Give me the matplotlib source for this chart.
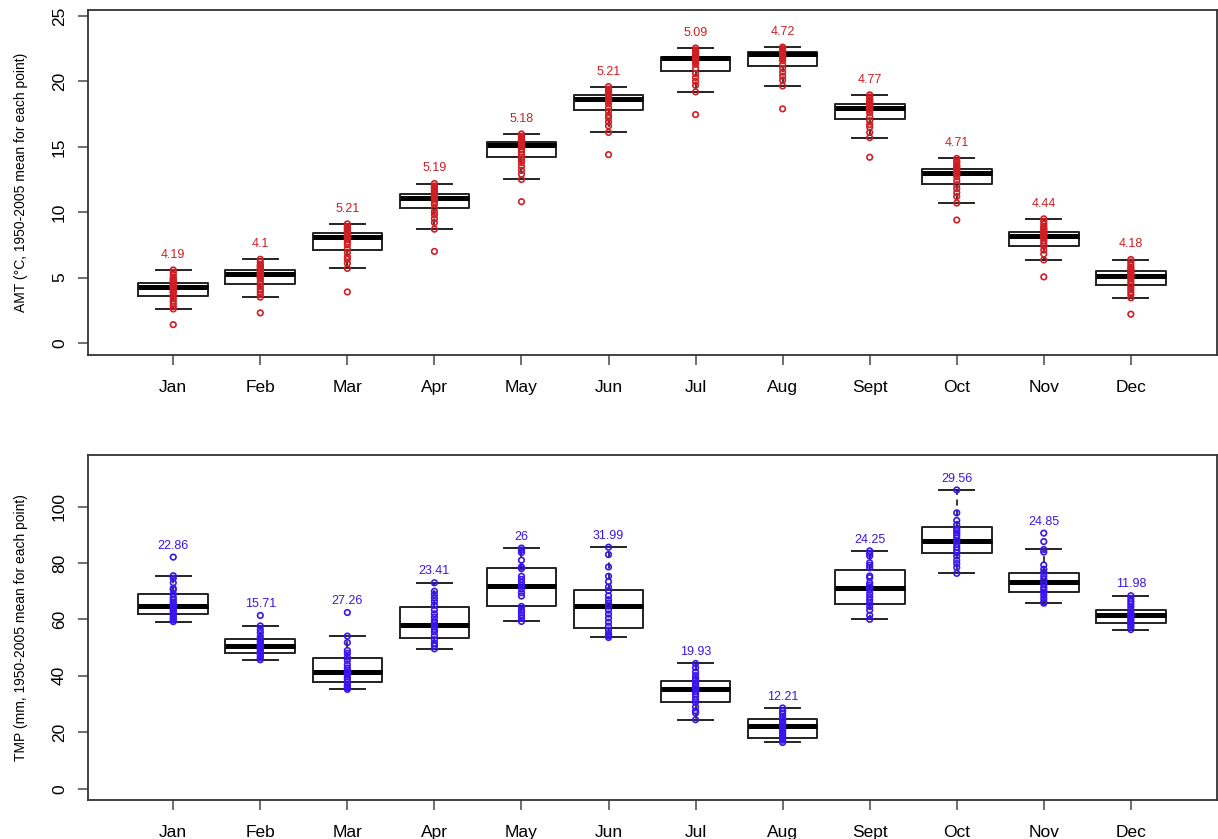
import numpy as np
import matplotlib.pyplot as plt

plt.rcParams['font.family'] = ['Liberation Sans', 'DejaVu Sans']

months = ['Jan', 'Feb', 'Mar', 'Apr', 'May', 'Jun', 'Jul', 'Aug', 'Sept', 'Oct', 'Nov', 'Dec']

# ---- AMT (temperature) ----
amt_whislo = [2.6, 3.5, 5.7, 8.7, 12.5, 16.1, 19.2, 19.65, 15.7, 10.7, 6.35, 3.45]
amt_q1 = [3.6, 4.5, 7.1, 10.3, 14.2, 17.8, 20.8, 21.2, 17.1, 12.15, 7.4, 4.4]
amt_med = [4.3, 5.25, 8.1, 11.1, 15.1, 18.65, 21.8, 22.1, 18.0, 13.0, 8.2, 5.1]
amt_q3 = [4.6, 5.6, 8.4, 11.4, 15.4, 18.96, 21.9, 22.25, 18.3, 13.3, 8.5, 5.5]
amt_whishi = [5.58, 6.4, 9.1, 12.19, 15.98, 19.6, 22.55, 22.62, 18.97, 14.11, 9.49, 6.38]
amt_range = ['4.19', '4.1', '5.21', '5.19', '5.18', '5.21', '5.09', '4.72', '4.77', '4.71', '4.44', '4.18']

amt_points = [
    [5.58, 5.4, 5.2, 5.0, 4.9, 4.8, 4.7, 4.6, 4.5, 4.45, 4.4, 4.3, 4.25, 4.2, 4.1, 4.0, 3.9, 3.8, 3.6, 3.4, 3.2, 3.0, 2.8, 2.6, 1.4],
    [6.4, 6.2, 6.0, 5.9, 5.8, 5.7, 5.6, 5.5, 5.4, 5.3, 5.25, 5.2, 5.1, 5.0, 4.9, 4.7, 4.5, 4.3, 4.1, 3.9, 3.7, 3.5, 2.3],
    [9.1, 8.9, 8.8, 8.7, 8.6, 8.5, 8.4, 8.3, 8.2, 8.1, 8.0, 7.9, 7.7, 7.5, 7.2, 6.9, 6.6, 6.4, 6.1, 5.7, 3.9],
    [12.19, 12.0, 11.9, 11.8, 11.7, 11.6, 11.5, 11.4, 11.3, 11.2, 11.1, 11.0, 10.8, 10.6, 10.3, 10.0, 9.8, 9.5, 9.2, 8.7, 7.0],
    [15.98, 15.8, 15.7, 15.6, 15.5, 15.4, 15.3, 15.2, 15.1, 15.0, 14.8, 14.6, 14.4, 14.2, 14.0, 13.8, 13.5, 13.2, 12.9, 12.5, 10.8],
    [19.6, 19.4, 19.3, 19.2, 19.1, 19.0, 18.9, 18.8, 18.7, 18.6, 18.5, 18.3, 18.0, 17.7, 17.4, 17.2, 16.9, 16.6, 16.1, 14.4],
    [22.55, 22.4, 22.3, 22.2, 22.1, 22.0, 21.9, 21.8, 21.7, 21.6, 21.5, 21.3, 21.0, 20.6, 20.3, 20.0, 19.7, 19.2, 17.46],
    [22.62, 22.5, 22.4, 22.3, 22.2, 22.1, 22.0, 21.9, 21.8, 21.6, 21.3, 21.0, 20.7, 20.4, 20.1, 19.65, 17.9],
    [18.97, 18.8, 18.6, 18.5, 18.4, 18.3, 18.2, 18.1, 18.0, 17.9, 17.8, 17.6, 17.3, 17.0, 16.7, 16.5, 16.1, 15.7, 14.2],
    [14.11, 13.9, 13.8, 13.6, 13.5, 13.4, 13.3, 13.2, 13.1, 13.0, 12.9, 12.7, 12.4, 12.1, 11.8, 11.5, 11.2, 10.7, 9.4],
    [9.49, 9.3, 9.1, 8.9, 8.8, 8.7, 8.6, 8.5, 8.4, 8.3, 8.2, 8.1, 8.0, 7.8, 7.6, 7.4, 7.1, 6.8, 6.35, 5.05],
    [6.38, 6.2, 6.0, 5.8, 5.7, 5.6, 5.5, 5.4, 5.3, 5.2, 5.1, 5.0, 4.9, 4.7, 4.5, 4.3, 4.1, 3.9, 3.7, 3.45, 2.2],
]

# ---- TMP (precipitation) ----
tmp_whislo = [59.24, 45.7, 35.2, 49.59, 59.3, 53.61, 24.47, 16.39, 60.05, 76.34, 65.75, 56.42]
tmp_q1 = [61.8, 48.2, 37.9, 53.4, 64.7, 57.0, 30.8, 18.0, 65.5, 83.5, 69.9, 58.8]
tmp_med = [64.8, 50.6, 41.2, 58.2, 71.8, 64.7, 35.4, 22.3, 71.1, 87.9, 73.4, 61.4]
tmp_q3 = [69.1, 53.0, 46.4, 64.5, 78.4, 70.5, 38.1, 24.6, 77.5, 92.6, 76.3, 63.4]
tmp_whishi = [75.5, 57.7, 54.1, 73.0, 85.3, 85.6, 44.4, 28.6, 84.3, 105.9, 84.8, 68.4]
tmp_range = ['22.86', '15.71', '27.26', '23.41', '26', '31.99', '19.93', '12.21', '24.25', '29.56', '24.85', '11.98']

tmp_points = [
    [82.1, 75.5, 74.6, 73.0, 71.0, 70.5, 69.0, 67.8, 67.0, 66.2, 65.5, 64.8, 64.2, 63.6, 63.0, 62.4, 61.8, 61.0, 60.4, 59.8, 59.24],
    [61.41, 57.7, 56.4, 55.3, 54.0, 53.0, 52.3, 51.6, 51.0, 50.6, 50.1, 49.6, 49.0, 48.4, 47.8, 47.1, 46.4, 45.7],
    [62.46, 54.1, 51.8, 49.0, 48.0, 46.6, 45.5, 44.0, 42.8, 41.9, 41.2, 40.4, 39.6, 38.8, 37.9, 37.0, 36.4, 35.8, 35.2],
    [73.0, 70.0, 68.8, 67.6, 66.4, 65.0, 63.4, 62.0, 60.8, 59.6, 58.7, 58.0, 57.3, 56.5, 55.6, 54.3, 52.8, 51.6, 50.7, 49.59],
    [85.3, 84.6, 83.7, 81.0, 78.6, 78.0, 75.3, 74.2, 73.1, 72.0, 70.8, 69.5, 68.3, 64.6, 63.4, 62.5, 61.4, 60.4, 59.3],
    [85.6, 83.0, 78.6, 75.3, 73.4, 71.5, 70.2, 68.4, 67.0, 65.8, 64.7, 63.3, 61.9, 60.5, 59.0, 57.6, 56.2, 55.0, 54.2, 53.61],
    [44.4, 42.9, 41.4, 40.1, 39.0, 38.2, 37.4, 36.6, 35.8, 35.2, 34.3, 33.5, 32.6, 31.5, 30.6, 29.0, 27.6, 26.8, 24.47],
    [28.6, 27.5, 26.6, 25.7, 24.8, 24.0, 23.3, 22.7, 22.1, 21.5, 20.9, 20.2, 19.5, 18.7, 17.9, 17.2, 16.39],
    [84.3, 83.4, 82.5, 80.1, 79.2, 78.3, 75.4, 74.8, 73.0, 72.1, 71.4, 70.5, 69.2, 68.0, 66.9, 65.7, 64.6, 63.3, 61.5, 60.05],
    [105.9, 97.8, 95.1, 93.6, 92.2, 91.5, 90.7, 89.8, 88.9, 87.8, 86.6, 85.5, 84.6, 83.7, 82.5, 81.0, 79.8, 78.4, 76.34],
    [90.6, 87.6, 84.8, 83.9, 79.3, 77.8, 76.7, 75.4, 74.3, 73.4, 72.4, 71.3, 70.5, 69.7, 68.6, 67.4, 66.3, 65.75],
    [68.4, 67.4, 66.4, 65.4, 64.4, 63.4, 62.6, 61.9, 61.4, 60.8, 60.1, 59.4, 58.7, 58.0, 57.3, 56.42],
]

RED = '#CF1E24'
BLUE = '#3A14F0'


def panel(ax, whislo, q1, med, q3, whishi, points, ranges, color, ylim, yticks, ylabel, lab_off):
    stats = []
    for i in range(len(months)):
        stats.append(dict(med=med[i], q1=q1[i], q3=q3[i], whislo=whislo[i], whishi=whishi[i], fliers=[]))
    pos = np.arange(1, len(months) + 1)
    ax.bxp(stats, positions=pos, widths=0.8, showfliers=False,
           boxprops=dict(color='#222222', lw=1.4),
           medianprops=dict(color='black', lw=3.6, solid_capstyle='butt'),
           whiskerprops=dict(color='black', lw=1.1, ls=(0, (4, 3))),
           capprops=dict(color='#222222', lw=1.4))
    for i, vals in enumerate(points):
        ax.scatter(np.full(len(vals), pos[i]), vals, s=16, facecolors='none',
                   edgecolors=color, linewidths=1.2, zorder=3)
        ax.text(pos[i], max(vals) + lab_off, ranges[i], color=color, fontsize=9,
                ha='center', va='center')
    ax.set_xlim(0.02, 12.99)
    ax.set_ylim(*ylim)
    ax.set_xticks(pos)
    ax.set_xticklabels(months, fontsize=12.5)
    ax.set_yticks(yticks)
    ax.set_yticklabels([str(t) for t in yticks], fontsize=12.5, rotation=90, va='center')
    ax.set_ylabel(ylabel, fontsize=10, labelpad=17)
    ax.tick_params(direction='out', length=7, width=1.2, color='#555555', pad=8)
    ax.tick_params(axis='x', pad=11)
    for sp in ax.spines.values():
        sp.set_linewidth(1.3)
        sp.set_color('#333333')


fig = plt.figure(figsize=(12.18, 8.39), dpi=100)
ax1 = fig.add_axes([0.0722, 0.5769, 0.927, 0.4112])
ax2 = fig.add_axes([0.0722, 0.0465, 0.927, 0.4112])

panel(ax1, amt_whislo, amt_q1, amt_med, amt_q3, amt_whishi, amt_points, amt_range, RED,
      (-0.92, 25.46), [0, 5, 10, 15, 20, 25], 'AMT (°C, 1950-2005 mean for each point)', 1.15)
panel(ax2, tmp_whislo, tmp_q1, tmp_med, tmp_q3, tmp_whishi, tmp_points, tmp_range, BLUE,
      (-4.0, 118.3), [0, 20, 40, 60, 80, 100], 'TMP (mm, 1950-2005 mean for each point)', 4.0)

fig.savefig('out.png', dpi=100)
